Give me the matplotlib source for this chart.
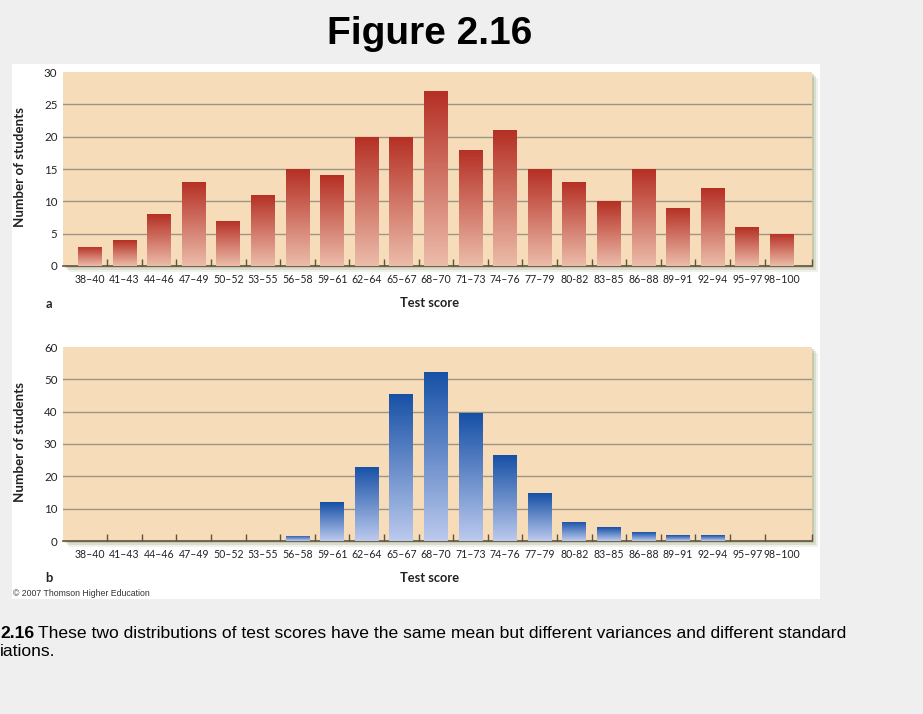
import numpy as np
import matplotlib
matplotlib.use('Agg')
from matplotlib import pyplot as plt
from matplotlib.colors import LinearSegmentedColormap
from matplotlib.patches import Rectangle

# data
bins = ['38–40', '41–43', '44–46', '47–49', '50–52', '53–55', '56–58', '59–61',
        '62–64', '65–67', '68–70', '71–73', '74–76', '77–79', '80-82', '83–85',
        '86–88', '89–91', '92–94', '95–97', '98–100']
counts_a = [3, 4, 8, 13, 7, 11, 15, 14, 20, 20, 27, 18, 21, 15, 13, 10, 15, 9, 12, 6, 5]
counts_b = [0, 0, 0, 0, 0, 0, 1.6, 12, 23, 45.5, 52.3, 39.5, 26.5, 14.7, 6, 4.3, 2.7, 1.8, 1.8, 0, 0]

W, H = 923, 714
fig = plt.figure(figsize=(W / 100, H / 100), dpi=100)
fig.patch.set_facecolor('#efefef')

def px(x0, y0, x1, y1):
    # pixel box -> figure fraction [left, bottom, width, height]
    return [x0 / W, 1 - y1 / H, (x1 - x0) / W, (y1 - y0) / H]

# white panel behind the figure
panel = Rectangle((12 / W, 1 - 599 / H), 808 / W, 535 / H, transform=fig.transFigure,
                  facecolor='white', edgecolor='none', zorder=-3)
fig.patches.append(panel)

tick_font = 'Lato'
beige = '#f6dcb9'
grid_col = '#9c9585'
axis_col = '#5e5240'


def gradient_bars(ax, bars, top_col, bot_col):
    cmap = LinearSegmentedColormap.from_list('g', [bot_col, top_col])
    grad = np.linspace(0, 1, 256).reshape(-1, 1)
    for b in bars:
        x, y = b.get_xy()
        w, h = b.get_width(), b.get_height()
        if h <= 0:
            continue
        im = ax.imshow(grad, extent=[x, x + w, y, y + h], origin='lower',
                       aspect='auto', cmap=cmap, zorder=3, interpolation='bilinear')
        im.set_clip_path(b)


def draw_hist(box, counts, ymax, ystep, top_col, bot_col, letter, label_y, letter_y):
    x0, y0, x1, y1 = box
    # green-ish drop shadow on the right and bottom
    for off, a in [(6, 0.15), (4, 0.25), (2, 0.35)]:
        sh = Rectangle(((x0 + off) / W, 1 - (y1 + off) / H), (x1 - x0) / W, (y1 - y0) / H,
                       transform=fig.transFigure, facecolor='#9fa276', edgecolor='none',
                       alpha=a, zorder=-1)
        fig.patches.append(sh)

    ax = fig.add_axes(px(*box))
    ax.set_facecolor(beige)
    pos = np.arange(len(bins))
    bars = ax.bar(pos, counts, width=0.69, facecolor='none', edgecolor='none', zorder=3)
    gradient_bars(ax, bars, top_col, bot_col)

    ticks = np.arange(0, ymax + 1, ystep)
    for v in ticks[1:-1]:
        ax.axhline(v, color=grid_col, lw=1, zorder=1)

    ax.set_xlim(-0.78, 20.87)
    ax.set_ylim(0, ymax)
    ax.set_yticks(ticks)
    ax.set_yticklabels([str(v) for v in ticks],
                       fontfamily=tick_font, fontsize=8.3, color='#222222')
    ax.tick_params(axis='y', length=0, pad=4)

    ax.set_xticks(pos)
    ax.set_xticklabels(bins, fontfamily=tick_font, fontsize=7.6, color='#222222')
    ax.tick_params(axis='x', which='major', length=0, pad=6)
    ax.set_xticks(list(np.arange(0.5, 20, 1)) + [20.86], minor=True)
    ax.tick_params(axis='x', which='minor', direction='in', length=5, width=1, color=axis_col)

    for s in ['top', 'right', 'left']:
        ax.spines[s].set_visible(False)
    ax.spines['bottom'].set_color(axis_col)
    ax.spines['bottom'].set_linewidth(1.2)

    # labels
    yc = (y0 + y1) / 2
    fig.text(20 / W, 1 - (yc - 2) / H, 'Number of students', rotation=90, ha='center', va='center',
             fontfamily=tick_font, fontweight='bold', fontsize=9.6, color='#222222')
    fig.text(430 / W, 1 - label_y / H, 'Test score', ha='center', va='center',
             fontfamily=tick_font, fontweight='bold', fontsize=9.3, color='#222222')
    fig.text(49 / W, 1 - letter_y / H, letter, ha='center', va='center',
             fontfamily=tick_font, fontweight='bold', fontsize=9.3, color='#222222')
    return ax


draw_hist((63, 72, 812, 266), counts_a, 30, 5, '#b52f24', '#ecbcaa', 'a', 303, 304)
draw_hist((63, 347, 812, 541), counts_b, 60, 10, '#1650a6', '#bccaee', 'b', 578, 578)

fig.text(13 / W, 1 - 594 / H, '© 2007 Thomson Higher Education', ha='left', va='center',
         fontfamily='Liberation Sans', fontsize=6.3, color='#333333')

fig.text(430 / W, 1 - 34 / H, 'Figure 2.16', ha='center', va='center',
         fontfamily='Liberation Sans', fontweight='bold', fontsize=28, color='black')

# caption (cut off at left edge as in the slide)
fig.text(0, 1 - 633 / H, '2.16', ha='left', va='center', fontfamily='Liberation Sans',
         fontweight='bold', fontsize=12.6, color='black')
fig.text(38 / W, 1 - 633 / H,
         'These two distributions of test scores have the same mean but different variances and different standard',
         ha='left', va='center', fontfamily='Liberation Sans', fontsize=12.6, color='black')
fig.text(0, 1 - 652 / H, 'iations.', ha='left', va='center', fontfamily='Liberation Sans',
         fontsize=12.6, color='black')

fig.savefig('out.png', dpi=100, facecolor=fig.get_facecolor())
